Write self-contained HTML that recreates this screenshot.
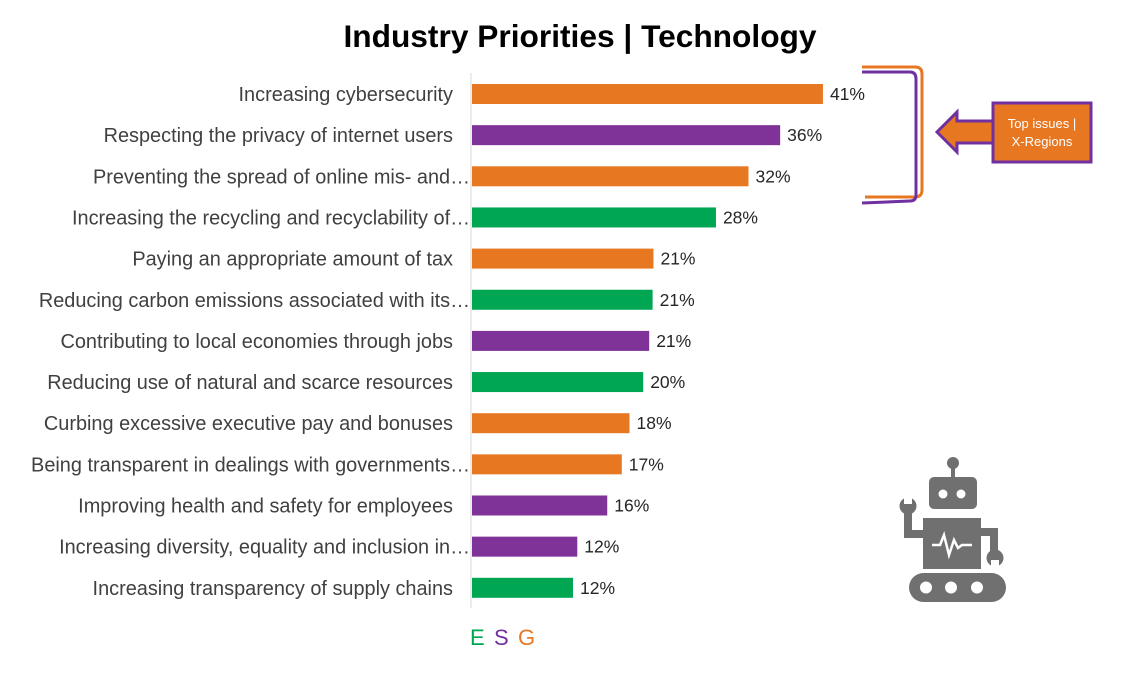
<!DOCTYPE html>
<html><head><meta charset="utf-8"><style>
html,body{margin:0;padding:0;background:#fff;}
svg{display:block;font-family:"Liberation Sans",Arial,sans-serif;}
</style></head><body>
<svg id="chart" width="1123" height="678" viewBox="0 0 1123 678">
  <text x="580" y="47" text-anchor="middle" font-size="31.7" font-weight="bold" fill="#000">Industry Priorities | Technology</text>
  <line x1="471" y1="73" x2="471" y2="608" stroke="#d9d9d9" stroke-width="1"/>
  <g id="bars"></g>
  <g font-size="22">
    <text x="470" y="645" fill="#00a651">E</text>
    <text x="494" y="645" fill="#7030a0">S</text>
    <text x="518" y="645" fill="#e87722">G</text>
  </g>
  <g fill="none" stroke-width="3">
    <path d="M862 67 L915 67 Q922 67 922 74 L922 190 Q922 197 915 197 L865 197" stroke="#e87722"/>
    <path d="M862 72 L910 72 Q916 72 916 79 L916 195 Q916 201 910 201 L862 203" stroke="#7030a0"/>
  </g>
  <g>
    <polygon points="995,121 957,121 957,112 937,132 957,152 957,143 995,143" fill="#e87722" stroke="#7030a0" stroke-width="3"/>
    <rect x="993" y="103" width="98" height="59" fill="#e87722" stroke="#7030a0" stroke-width="3"/>
    <text x="1042" y="128" text-anchor="middle" font-size="13" fill="#fff">Top issues |</text>
    <text x="1042" y="146" text-anchor="middle" font-size="13" fill="#fff">X-Regions</text>
  </g>
  <g fill="#707070">
    <circle cx="953" cy="463" r="6"/>
    <rect x="951" y="463" width="4" height="16"/>
    <rect x="929" y="477" width="48" height="32" rx="5"/>
    <circle cx="943" cy="494" r="4.5" fill="#fff"/>
    <circle cx="961" cy="494" r="4.5" fill="#fff"/>
    <rect x="923" y="518" width="58" height="51"/>
    <polyline points="932,545 940,545 944,535 949,555 954,540 958,548 962,545 972,545" fill="none" stroke="#fff" stroke-width="2.5"/>
    <path d="M904 510 L904 538 L924 538 L924 530 L912 530 L912 510 Z"/>
    <circle cx="908" cy="506" r="8.5"/>
    <rect x="904" y="496" width="8" height="8" fill="#fff"/>
    <path d="M980 528 L998 528 L998 552 L990 552 L990 536 L980 536 Z"/>
    <circle cx="995" cy="558" r="8.5"/>
    <rect x="991" y="560" width="8" height="8" fill="#fff"/>
    <rect x="909" y="573" width="97" height="29" rx="14.5"/>
    <circle cx="926" cy="587.5" r="6" fill="#fff"/>
    <circle cx="951" cy="587.5" r="6" fill="#fff"/>
    <circle cx="977" cy="587.5" r="6" fill="#fff"/>
  </g>
</svg>
<script>
const categories = ["Increasing cybersecurity","Respecting the privacy of internet users","Preventing the spread of online mis- and…","Increasing the recycling and recyclability of…","Paying an appropriate amount of tax","Reducing carbon emissions associated with its…","Contributing to local economies through jobs","Reducing use of natural and scarce resources","Curbing excessive executive pay and bonuses","Being transparent in dealings with governments…","Improving health and safety for employees","Increasing diversity, equality and inclusion in…","Increasing transparency of supply chains"];
const values = [41, 36, 32.3, 28.5, 21.2, 21.1, 20.7, 20.0, 18.4, 17.5, 15.8, 12.3, 11.8];
const valueLabels = ["41%","36%","32%","28%","21%","21%","21%","20%","18%","17%","16%","12%","12%"];
const pillars = ["G","S","G","E","G","E","S","E","G","G","S","S","E"];
const colors = {E:"#00a651", S:"#7f3297", G:"#e87722"};
const NS = "http://www.w3.org/2000/svg";
const x0 = 472, pxPer = 8.56, yTop = 94, step = 41.15, barH = 20;
const xScale = v => x0 + v * pxPer;
const yScale = i => yTop + i * step;
const g = document.getElementById('bars');
categories.forEach((c, i) => {
  const cy = yScale(i);
  const lab = document.createElementNS(NS, 'text');
  
  
  lab.setAttribute('x', c.endsWith('…') ? 470 : 453);
  lab.setAttribute('y', cy + 7);
  lab.setAttribute('text-anchor', 'end');
  lab.setAttribute('font-size', '19.9');
  lab.setAttribute('fill', '#404040');
  lab.textContent = c;
  g.appendChild(lab);
  const r = document.createElementNS(NS, 'rect');
  
  
  r.setAttribute('x', x0);
  r.setAttribute('y', cy - barH / 2);
  r.setAttribute('width', xScale(values[i]) - x0);
  r.setAttribute('height', barH);
  r.setAttribute('fill', colors[pillars[i]]);
  g.appendChild(r);
  const t = document.createElementNS(NS, 'text');
  
  
  t.setAttribute('x', xScale(values[i]) + 7);
  t.setAttribute('y', cy + 6);
  t.setAttribute('font-size', '17.5');
  t.setAttribute('fill', '#262626');
  t.textContent = valueLabels[i];
  g.appendChild(t);
});
</script>
</body></html>
